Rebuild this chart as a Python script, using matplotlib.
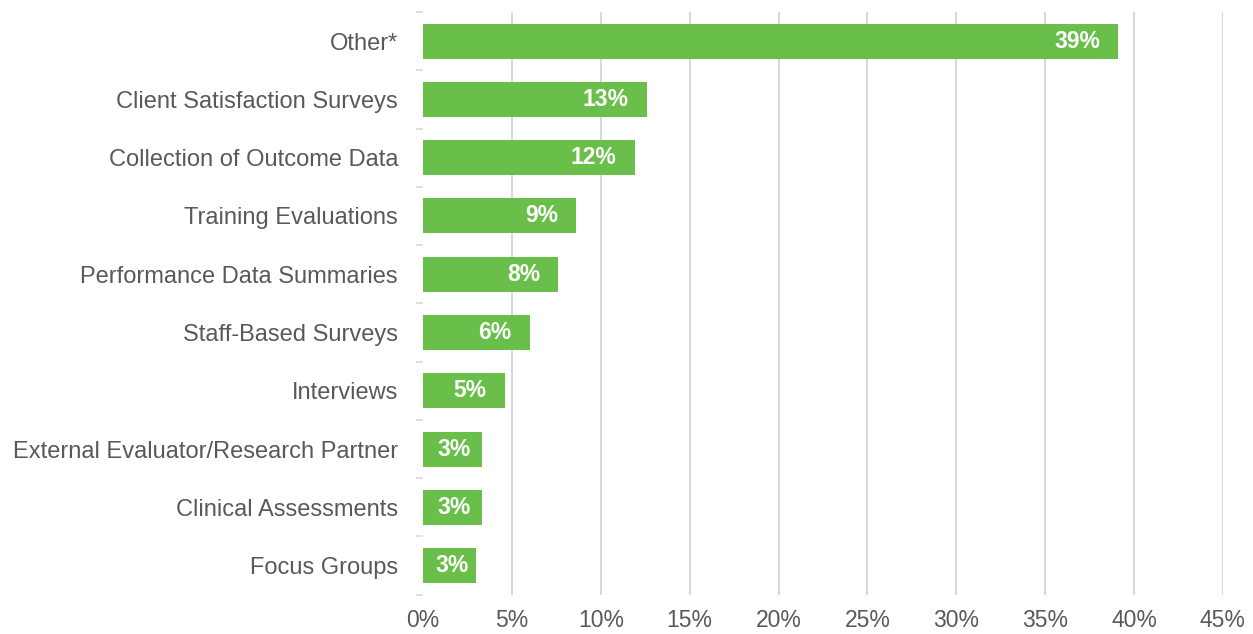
import matplotlib
matplotlib.use("Agg")
import matplotlib.pyplot as plt
import numpy as np

categories = [
    "Other*",
    "Client Satisfaction Surveys",
    "Collection of Outcome Data",
    "Training Evaluations",
    "Performance Data Summaries",
    "Staff-Based Surveys",
    "Interviews",
    "External Evaluator/Research Partner",
    "Clinical Assessments",
    "Focus Groups",
]
shares = [39.1, 12.6, 11.9, 8.6, 7.6, 6.0, 4.6, 3.3, 3.3, 3.0]
x_ticks = [0, 5, 10, 15, 20, 25, 30, 35, 40, 45]

plt.rcParams["font.family"] = ["Liberation Sans", "DejaVu Sans"]
GREEN = "#6ABF4B"
TEXT = "#595959"
GRID = "#D9D9D9"

fig = plt.figure(figsize=(12.53, 6.34), dpi=100)
ax = fig.add_axes([0.3376, 0.062, 0.6384, 0.919])

y = np.arange(len(categories))
ax.barh(y, shares, height=0.6, color=GREEN, zorder=3)

for yi, v in zip(y, shares):
    label = f"{v:.0f}%"
    if v < 4:
        # short bars: centre the label within the bar
        ax.annotate(label, xy=(v / 2, yi), xytext=(1.5, 0), textcoords="offset points",
                    ha="center", va="center", color="white", fontsize=16.5,
                    fontweight="bold", zorder=4)
    else:
        ax.annotate(label, xy=(v, yi), xytext=(-13, 0), textcoords="offset points",
                    ha="right", va="center", color="white", fontsize=16.5,
                    fontweight="bold", zorder=4)

ax.set_ylim(len(categories) - 0.5, -0.5)
ax.set_xlim(0, 45)
ax.set_xticks(x_ticks)
ax.set_xticklabels([f"{t}%" for t in x_ticks])
ax.set_yticks(y)
ax.set_yticklabels(categories)
ax.set_yticks(np.arange(-0.5, len(categories)), minor=True)

for s in ax.spines.values():
    s.set_visible(False)

ax.grid(axis="x", color=GRID, linewidth=1.5, zorder=0)
ax.xaxis.get_gridlines()[0].set_visible(False)

ax.tick_params(axis="y", which="major", length=0, pad=18, labelsize=17, labelcolor=TEXT)
ax.tick_params(axis="y", which="minor", length=5, color=GRID, width=1.2)
ax.tick_params(axis="x", length=0, pad=10, labelsize=16.5, labelcolor=TEXT)

fig.savefig("out.png", dpi=100)
